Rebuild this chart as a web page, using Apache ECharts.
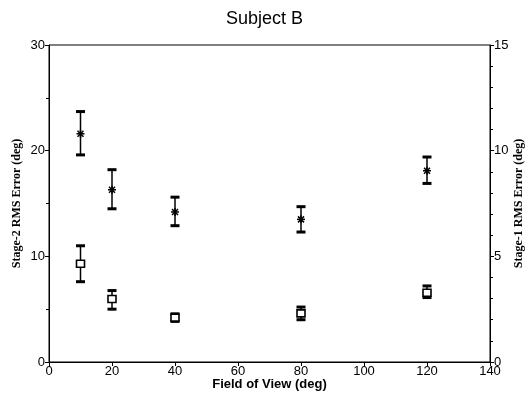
<!DOCTYPE html>
<html>
<head>
<meta charset="utf-8">
<script src="https://cdn.jsdelivr.net/npm/echarts@6/dist/echarts.min.js"></script>
<style>
  html, body { margin: 0; padding: 0; background: #fff; }
  #chart { width: 529px; height: 396px; }
</style>
</head>
<body>
<div id="chart"></div>
<script>
// field of view (deg)
var fov = [10, 20, 40, 80, 120];
// stage-2 (stars, left axis)
var stage2 = [21.6, 16.3, 14.2, 13.5, 18.1];
var stage2Lo = [19.6, 14.5, 12.9, 12.3, 16.9];
var stage2Hi = [23.7, 18.2, 15.6, 14.7, 19.4];
// stage-1 (squares, right axis)
var stage1 = [4.65, 2.98, 2.1, 2.3, 3.28];
var stage1Lo = [3.8, 2.5, 1.92, 2.0, 3.05];
var stage1Hi = [5.5, 3.38, 2.28, 2.6, 3.6];

var font = 'Liberation Sans, Arial, sans-serif';
var serif = 'Liberation Serif, Times New Roman, serif';

function makeData(v, lo, hi) {
    return fov.map(function (x, i) { return [x, v[i], lo[i], hi[i]] })
}

function errRender(kind) {
    return function (params, api) {
        var c = api.coord([api.value(0), api.value(1)])
        var lo = api.coord([api.value(0), api.value(2)])
        var hi = api.coord([api.value(0), api.value(3)])
        var st = { stroke: '#000', lineWidth: 1.5 }
        var kids = [
            { type: 'line', shape: { x1: c[0], y1: hi[1], x2: c[0], y2: lo[1] }, style: st },
            { type: 'rect', shape: { x: c[0] - 4.5, y: hi[1] - 1.5, width: 9, height: 3 }, style: { fill: '#000' } },
            { type: 'rect', shape: { x: c[0] - 4.5, y: lo[1] - 1.5, width: 9, height: 3 }, style: { fill: '#000' } }
        ]
        if (kind === 'star') {
            var r = 4
            kids.push({ type: 'line', shape: { x1: c[0] - r, y1: c[1], x2: c[0] + r, y2: c[1] }, style: st })
            kids.push({ type: 'line', shape: { x1: c[0], y1: c[1] - r, x2: c[0], y2: c[1] + r }, style: st })
            kids.push({ type: 'line', shape: { x1: c[0] - 3, y1: c[1] - 3, x2: c[0] + 3, y2: c[1] + 3 }, style: st })
            kids.push({ type: 'line', shape: { x1: c[0] - 3, y1: c[1] + 3, x2: c[0] + 3, y2: c[1] - 3 }, style: st })
        } else {
            kids.push({ type: 'rect', shape: { x: c[0] - 4, y: c[1] - 3.5, width: 8, height: 7 }, style: { fill: '#fff', stroke: '#000', lineWidth: 1.6 } })
        }
        return { type: 'group', children: kids }
    }
}

var myChart = echarts.init(document.getElementById('chart'))
myChart.setOption({
    animation: false,
    backgroundColor: '#fff',
    title: {
        text: 'Subject B',
        left: 'center',
        top: 5,
        textStyle: { fontFamily: font, fontSize: 18, fontWeight: 'normal', color: '#000' }
    },
    grid: {
        left: 49, right: 39, top: 45, bottom: 34,
        outerBoundsMode: 'none', containLabel: false,
        show: true, borderColor: '#000', borderWidth: 1
    },
    xAxis: {
        type: 'value',
        min: 0, max: 140, interval: 20,
        name: 'Field of View (deg)',
        nameLocation: 'middle',
        nameMoveOverlap: false,
        nameGap: 16,
        nameTextStyle: { fontFamily: font, fontSize: 13, fontWeight: 'bold', color: '#000' },
        axisLine: { lineStyle: { color: '#000' } },
        axisTick: { inside: false, length: 4, lineStyle: { color: '#000' } },
        axisLabel: { fontFamily: font, fontSize: 13, color: '#000', margin: 3 },
        splitLine: { show: false }
    },
    yAxis: [{
        type: 'value',
        min: 0, max: 30, interval: 10,
        name: 'Stage-2 RMS Error (deg)',
        nameLocation: 'middle',
        nameMoveOverlap: false,
        nameRotate: 90,
        nameGap: 26,
        nameTextStyle: { fontFamily: serif, fontSize: 12, fontWeight: 'bold', color: '#000' },
        axisLine: { show: true, lineStyle: { color: '#000' } },
        axisTick: { show: true, length: 4, lineStyle: { color: '#000' } },
        minorTick: { show: true, splitNumber: 2, length: 3, lineStyle: { color: '#000' } },
        axisLabel: { fontFamily: font, fontSize: 13, color: '#000', margin: 4 },
        splitLine: { show: false }
    }, {
        type: 'value',
        position: 'right',
        min: 0, max: 15, interval: 5,
        name: 'Stage-1 RMS Error (deg)',
        nameLocation: 'middle',
        nameMoveOverlap: false,
        nameRotate: 90,
        nameGap: 23,
        nameTextStyle: { fontFamily: serif, fontSize: 12, fontWeight: 'bold', color: '#000' },
        axisLine: { show: true, lineStyle: { color: '#000' } },
        axisTick: { show: true, length: 4, lineStyle: { color: '#000' } },
        minorTick: { show: true, splitNumber: 5, length: 3, lineStyle: { color: '#000' } },
        axisLabel: { fontFamily: font, fontSize: 13, color: '#000', margin: 4 },
        splitLine: { show: false }
    }],
    series: [{
        name: 'Stage-2',
        type: 'custom',
        yAxisIndex: 0,
        renderItem: errRender('star'),
        encode: { x: 0, y: [1, 2, 3] },
        data: makeData(stage2, stage2Lo, stage2Hi)
    }, {
        name: 'Stage-1',
        type: 'custom',
        yAxisIndex: 1,
        renderItem: errRender('square'),
        encode: { x: 0, y: [1, 2, 3] },
        data: makeData(stage1, stage1Lo, stage1Hi)
    }]
})
</script>
</body>
</html>
